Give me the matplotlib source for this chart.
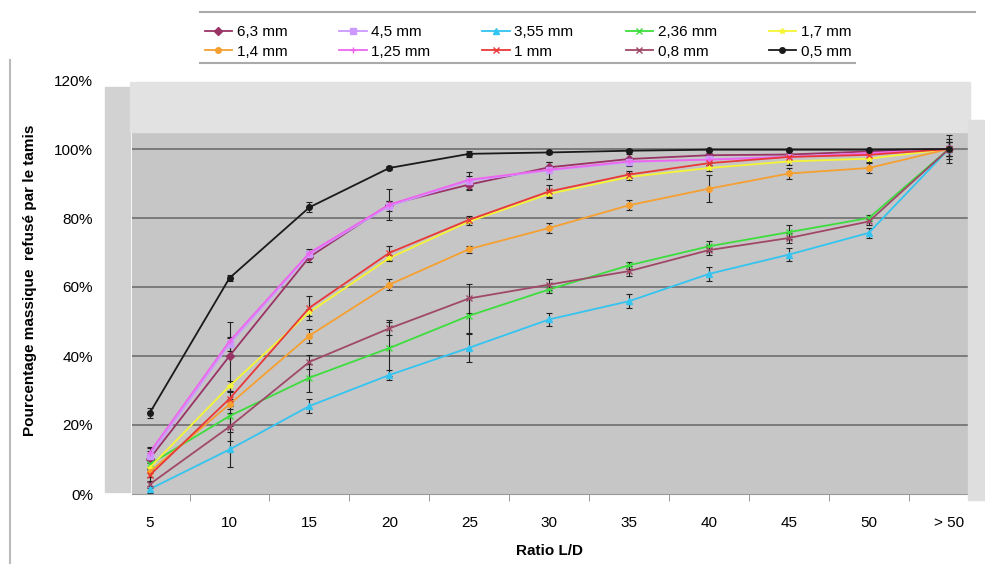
import numpy as np
import matplotlib
matplotlib.use("Agg")
import matplotlib.pyplot as plt
from matplotlib.patches import Rectangle
from matplotlib.lines import Line2D

plt.rcParams['font.family'] = ['Liberation Sans', 'DejaVu Sans']

# categories
ratios = ["5", "10", "15", "20", "25", "30", "35", "40", "45", "50", "> 50"]

# % refused by sieve, per sieve opening
d63 = [10.2, 40.0, 68.7, 83.9, 89.7, 94.7, 97.1, 98.2, 98.4, 99.3, 100]
d45 = [11.0, 43.5, 69.5, 83.5, 90.8, 93.8, 96.2, 97.0, 97.8, 98.6, 100]
d355 = [1.4, 12.9, 25.5, 34.5, 42.4, 50.6, 55.9, 63.8, 69.4, 75.7, 100]
d236 = [8.6, 22.6, 33.7, 42.3, 51.7, 59.3, 66.3, 71.8, 75.9, 80.0, 100]
d17 = [7.6, 31.3, 52.7, 68.4, 79.0, 87.0, 91.9, 94.5, 96.4, 97.2, 100]
d14 = [6.4, 26.0, 45.9, 60.7, 71.0, 77.1, 83.7, 88.5, 92.9, 94.5, 100]
d125 = [12.0, 44.3, 69.9, 83.9, 91.1, 94.0, 96.4, 96.9, 97.7, 98.8, 100]
d1 = [5.4, 27.6, 54.0, 69.9, 79.5, 87.7, 92.6, 95.9, 97.7, 98.3, 100]
d08 = [2.8, 19.5, 38.3, 48.0, 56.7, 60.7, 64.6, 70.7, 74.2, 79.0, 100]
d05 = [23.4, 62.6, 83.1, 94.5, 98.6, 99.0, 99.5, 99.8, 99.8, 99.8, 100]

# error bars (%)
e63 = [3, 10, 1.5, 4.5, 1.5, 1.5, 1.5, 0.5, 0.5, 0.5, 3]
e45 = [1.5, 2, 1, 1.5, 2.5, 2.5, 1, 1, 0.5, 0.5, 2]
e355 = [1, 5, 2, 1.5, 4, 2, 2, 2, 2, 1.5, 4]
e236 = [1.5, 3, 4, 8, 5, 1, 1, 1.5, 2, 1, 2]
e17 = [1.5, 1.5, 1, 1, 1, 1, 1, 1, 1, 1, 1]
e14 = [1.5, 1.5, 2, 1.5, 1, 1.5, 1.5, 4, 1.5, 1.5, 2]
e125 = [1.5, 1, 1, 1, 1, 1, 1, 1, 0.5, 0.5, 1]
e1 = [2, 2, 3.5, 2, 1, 2, 1, 1, 1, 1, 1]
e08 = [1, 4, 2, 2, 4.3, 1.5, 1.5, 1.5, 1.5, 1, 2]
e05 = [1.5, 1, 1.5, 0.5, 0.8, 0.5, 0.5, 0.3, 0.3, 0.3, 1]

series = [
    ("6,3 mm", d63, e63, "#993366", "D"),
    ("4,5 mm", d45, e45, "#cc99ff", "s"),
    ("3,55 mm", d355, e355, "#33c4f0", "^"),
    ("2,36 mm", d236, e236, "#3ddd3d", "x"),
    ("1,7 mm", d17, e17, "#f5f535", "*"),
    ("1,4 mm", d14, e14, "#f5a030", "o"),
    ("1,25 mm", d125, e125, "#ee66ee", "+"),
    ("1 mm", d1, e1, "#e83838", "x"),
    ("0,8 mm", d08, e08, "#a04868", "x"),
    ("0,5 mm", d05, e05, "#1a1a1a", "o"),
]

fig = plt.figure(figsize=(9.85, 5.64), dpi=100)
W, H = 985, 564

# shadow bands of the scanned chart
fig.patches.append(Rectangle((105 / W, 1 - 492 / H), 25 / W, 405 / H,
                             transform=fig.transFigure, color="#d2d2d2", zorder=0))
fig.patches.append(Rectangle((130 / W, 1 - 132 / H), 840 / W, 50 / H,
                             transform=fig.transFigure, color="#e2e2e2", zorder=0))
fig.patches.append(Rectangle((968 / W, 1 - 500 / H), 17 / W, 380 / H,
                             transform=fig.transFigure, color="#dedede", zorder=0))
fig.add_artist(Line2D([10 / W, 10 / W], [0, 1 - 60 / H], transform=fig.transFigure,
                      color="#bbbbbb", lw=1.5))

ax = fig.add_axes([132 / W, 1 - 494 / H, (968 - 132) / W, (494 - 80) / H])
ax.patch.set_alpha(0)
x = np.arange(len(ratios))

ax.axhspan(0, 1.05, color="#c6c6c6", zorder=0)
for g in [0.2, 0.4, 0.6, 0.8, 1.0]:
    ax.axhline(g, color="#6e6e6e", lw=1.2, zorder=1)

handles = {}
for name, vals, err, col, mk in series:
    v = np.array(vals) / 100
    e = np.array(err) / 100
    ax.errorbar(x, v, yerr=e, fmt="none", ecolor="#222222", elinewidth=0.8,
                capsize=2.5, capthick=0.8, zorder=2)
    ln, = ax.plot(x, v, color=col, lw=1.3, marker=mk, markersize=4,
                  markeredgewidth=1, zorder=3)
    handles[name] = ln

ax.set_xlim(-0.22, 10.24)
ax.set_ylim(0, 1.2)
ax.set_yticks(np.arange(0, 1.21, 0.2))
ax.set_yticklabels([f"{int(round(t * 100))}%" for t in np.arange(0, 1.21, 0.2)])
ax.set_xticks(x)
ax.set_xticklabels(ratios)
ax.set_xticks(np.arange(0.5, 10, 1), minor=True)
ax.tick_params(axis="y", length=0, pad=28, labelsize=11)
ax.tick_params(axis="x", which="major", length=0, pad=16, labelsize=11)
ax.tick_params(axis="x", which="minor", length=5, color="#888888")
for s in ["top", "right", "left"]:
    ax.spines[s].set_visible(False)
ax.spines["bottom"].set_color("#999999")

ax.set_xlabel("Ratio L/D", fontweight="bold", fontsize=11, labelpad=10)
fig.text(30 / W, 1 - 280 / H, "Pourcentage massique  refusé par le tamis",
         rotation=90, ha="center", va="center", fontweight="bold", fontsize=11)

order = ["6,3 mm", "1,4 mm", "4,5 mm", "1,25 mm", "3,55 mm", "1 mm",
         "2,36 mm", "0,8 mm", "1,7 mm", "0,5 mm"]
fig.legend([handles[n] for n in order], order, ncol=5, frameon=False,
           loc="center", bbox_to_anchor=(528 / W, 1 - 42 / H), fontsize=11,
           handlelength=1.8, handletextpad=0.3, columnspacing=3.4,
           labelspacing=0.35, borderpad=0)
fig.add_artist(Line2D([200 / W, 975 / W], [1 - 12 / H, 1 - 12 / H],
                      transform=fig.transFigure, color="#aaaaaa", lw=1.5))
fig.add_artist(Line2D([200 / W, 855 / W], [1 - 63 / H, 1 - 63 / H],
                      transform=fig.transFigure, color="#aaaaaa", lw=1.5))

fig.savefig("out.png", dpi=100)
